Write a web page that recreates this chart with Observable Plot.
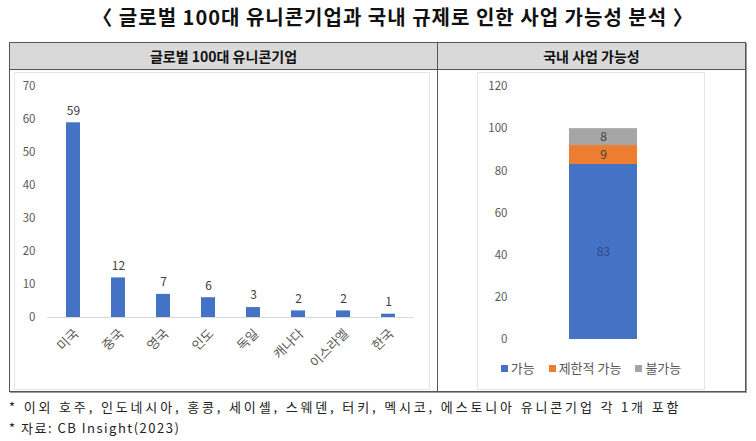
<!DOCTYPE html>
<html>
<head>
<meta charset="utf-8">
<script src="https://cdn.jsdelivr.net/npm/d3@7"></script>
<script src="https://cdn.jsdelivr.net/npm/@observablehq/plot@0.6"></script>
<style>
  html, body { margin: 0; padding: 0; background: #fff; }
  body { width: 756px; height: 441px; position: relative; overflow: hidden; font-family: "Noto Sans CJK KR", "Noto Sans", sans-serif; }
  .abs { position: absolute; }
  #title { left: 0; width: 786px; top: 2px; text-align: center; font-size: 20px; font-weight: 700; color: #111; letter-spacing: 1px; }
  #table { left: 9px; top: 42px; width: 735px; height: 348px; border: 1px solid #555; box-shadow: 1px 1px 0 #999; }
  #header { left: 10px; top: 43px; width: 735px; height: 26px; background: #d9d9d9; border-bottom: 1px solid #555; }
  #divider { left: 437px; top: 43px; width: 1px; height: 348px; background: #555; }
  .htext { top: 44px; height: 24px; line-height: 24px; font-size: 14px; font-weight: 700; color: #111; text-align: center; }
  .frame { border: 1px solid #e6e6e6; }
  .foot { left: 9px; font-size: 13px; color: #222; white-space: nowrap; }
  #legend { left: 477px; width: 228px; top: 358px; text-align: center; font-size: 13px; color: #595959; white-space: nowrap; }
  #legend span.sw { display: inline-block; width: 7px; height: 7px; margin-right: 3px; vertical-align: 1px; }
  #legend span.item { margin: 0 7px; }
</style>
</head>
<body>
<script>
// ---- data ----
const countries = ["미국", "중국", "영국", "인도", "독일", "캐나다", "이스라엘", "한국"];
const unicornCounts = [59, 12, 7, 6, 3, 2, 2, 1];
const leftTicks = [0, 10, 20, 30, 40, 50, 60, 70];

const possibilityCats = ["가능", "제한적 가능", "불가능"];
const possibilityValues = [83, 9, 8];
const possibilityColors = ["#4472C4", "#ED7D31", "#A5A5A5"];
const rightTicks = [0, 20, 40, 60, 80, 100, 120];

const titleText = "〈 글로벌 100대 유니콘기업과 국내 규제로 인한 사업 가능성 분석 〉";
const leftHeader = "글로벌 100대 유니콘기업";
const rightHeader = "국내 사업 가능성";
const footnotes = ["* 이외 호주, 인도네시아, 홍콩, 세이셸, 스웨덴, 터키, 멕시코, 에스토니아 유니콘기업 각 1개 포함", "* 자료: CB Insight(2023)"];

// ---- layout ----
function el(cls, style, text) {
  const d = document.createElement("div");
  d.className = cls;
  Object.assign(d.style, style);
  if (text != null) d.textContent = text;
  document.body.appendChild(d);
  return d;
}
const t = el("abs", {}, titleText); t.id = "title";
el("abs", {}).id = "table";
el("abs", {}).id = "header";
el("abs", {}).id = "divider";
el("abs htext", {left: "10px", width: "427px"}, leftHeader);
el("abs htext", {left: "438px", width: "307px"}, rightHeader);
el("abs frame", {left: "14px", top: "72px", width: "414px", height: "316px"});
el("abs frame", {left: "477px", top: "72px", width: "226px", height: "316px"});
el("abs foot", {top: "397px", letterSpacing: "2.85px"}, footnotes[0]);
el("abs foot", {top: "418px", letterSpacing: "1.5px"}, footnotes[1]);

const font = "'Noto Sans CJK KR', 'Noto Sans', sans-serif";

// ---- left chart ----
const leftData = countries.map((c, i) => ({country: c, value: unicornCounts[i]}));
const left = Plot.plot({
  width: 414, height: 316,
  marginLeft: 33, marginRight: 14, marginTop: 14, marginBottom: 71,
  style: {fontFamily: font, background: "transparent", overflow: "visible"},
  x: {domain: countries, paddingInner: 0.69, paddingOuter: 0.345, label: null},
  y: {domain: [0, 70], ticks: leftTicks, label: null},
  marks: [
    Plot.ruleY([0], {stroke: "#d9d9d9", strokeWidth: 1}),
    Plot.barY(leftData, {x: "country", y: "value", fill: "#4472C4"}),
    Plot.text(leftData, {x: "country", y: "value", text: d => String(d.value), dy: -12, fill: "#404040", fontSize: 12}),
    Plot.axisY({ticks: leftTicks, tickSize: 0, tickPadding: 12, fontSize: 11.5, fill: "#595959", label: null}),
    Plot.axisX({tickSize: 0, tickPadding: 14, tickRotate: -45, fontSize: 13, fill: "#595959", label: null, dx: 3})
  ]
});
left.style.position = "absolute";
left.style.left = "14px";
left.style.top = "72px";
document.body.appendChild(left);

// ---- right chart ----
const rightData = possibilityCats.map((k, i) => ({grp: "국내", cat: k, value: possibilityValues[i]}));
const right = Plot.plot({
  width: 226, height: 316,
  marginLeft: 40, marginRight: 10, marginTop: 14, marginBottom: 49,
  style: {fontFamily: font, background: "transparent", overflow: "visible"},
  x: {domain: ["국내"], range: [92, 160], padding: 0, axis: null},
  y: {domain: [0, 120], ticks: rightTicks, label: null},
  color: {domain: possibilityCats, range: possibilityColors},
  marks: [
    Plot.barY(rightData, {x: "grp", y: "value", fill: "cat", order: possibilityCats}),
    Plot.text(rightData, Plot.stackY({x: "grp", y: "value", order: possibilityCats, text: d => String(d.value), fill: d => d.cat === "가능" ? "#2f4d85" : "#404040", fontSize: 12})),
    Plot.axisY({ticks: rightTicks, tickSize: 0, tickPadding: 10, fontSize: 11.5, fill: "#595959", label: null})
  ]
});
right.style.position = "absolute";
right.style.left = "477px";
right.style.top = "72px";
document.body.appendChild(right);

// ---- legend ----
const lg = el("abs", {});
lg.id = "legend";
possibilityCats.forEach((c, i) => {
  const it = document.createElement("span");
  it.className = "item";
  const sw = document.createElement("span");
  sw.className = "sw";
  sw.style.background = possibilityColors[i];
  it.appendChild(sw);
  it.appendChild(document.createTextNode(c));
  lg.appendChild(it);
});
</script>
</body>
</html>
